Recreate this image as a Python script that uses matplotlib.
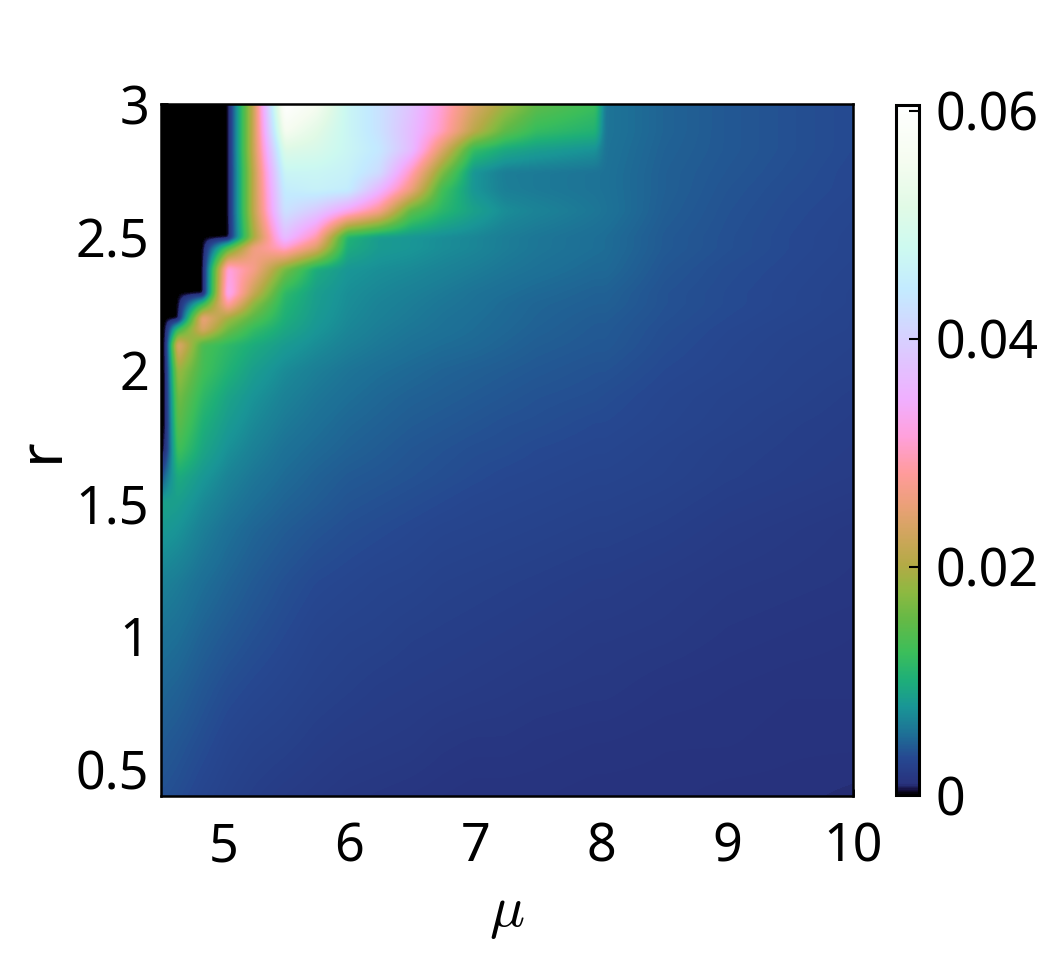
import numpy as np
import matplotlib
matplotlib.use("Agg")
import matplotlib.pyplot as plt
from matplotlib.colors import LinearSegmentedColormap, Normalize

plt.rcParams['font.family'] = ['Noto Sans', 'DejaVu Sans']
plt.rcParams['mathtext.fontset'] = 'cm'

mu = [4.5, 4.53, 4.63, 4.83, 5.03, 5.23, 5.48, 5.73, 5.98, 6.23, 6.48, 6.73, 6.98, 7.23, 7.48, 7.95, 8.03, 8.5, 9, 9.5, 10]
r = [3.0, 2.9, 2.83, 2.745, 2.68, 2.6, 2.5, 2.46, 2.38, 2.29, 2.25, 2.195, 2.155, 2.095, 2.0, 1.9, 1.8, 1.7, 1.6, 1.5, 1.4, 1.2, 1.0, 0.8, 0.6, 0.4]
z = [
 [0,0,0,0,0,.022,.0605,.056,.047,.043,.038,.031,.024,.019,.015,.0125,.0057,.0047,.0041,.0037,.0033],
 [0,0,0,0,0,.022,.056,.052,.047,.043,.037,.030,.021,.015,.012,.0105,.0057,.0047,.0041,.0037,.0033],
 [0,0,0,0,0,.022,.051,.050,.047,.044,.037,.024,.012,.0095,.0085,.0075,.0056,.0046,.0041,.0037,.0033],
 [0,0,0,0,0,.021,.047,.047,.046,.042,.030,.017,.0078,.0062,.006,.0056,.0055,.0045,.004,.0036,.0032],
 [0,0,0,0,0,.021,.045,.046,.045,.036,.026,.013,.0078,.0063,.006,.0056,.0055,.0045,.0039,.0035,.0032],
 [0,0,0,0,0,.021,.043,.039,.033,.027,.015,.0112,.0088,.0072,.0066,.0058,.0056,.0044,.0038,.0034,.0031],
 [0,0,0,0,0,.019,.037,.029,.0105,.0082,.0078,.0072,.0068,.0062,.0058,.0053,.0052,.0042,.0037,.0033,.003],
 [0,0,0,0,.014,.026,.031,.024,.0098,.0082,.0078,.0072,.0068,.0062,.0058,.0053,.0052,.0042,.0037,.0033,.003],
 [0,0,0,0,.032,.027,.0165,.0098,.0078,.0073,.007,.0066,.0062,.0058,.0055,.005,.005,.004,.0035,.0032,.0029],
 [0,0,0,0,.034,.022,.0115,.0085,.0073,.0068,.0064,.006,.0056,.0053,.005,.0046,.0046,.0038,.0034,.0031,.0028],
 [0,0,0,.012,.029,.018,.0108,.0084,.0072,.0066,.0062,.0058,.0055,.0051,.0048,.0045,.0045,.0038,.0034,.0031,.0028],
 [0,0,0,.026,.019,.0145,.0101,.0081,.007,.0064,.006,.0056,.0053,.005,.0047,.0043,.0043,.0037,.0033,.003,.0027],
 [0,0,.012,.024,.016,.012,.0094,.0078,.0068,.0062,.0058,.0055,.0052,.0049,.0046,.0042,.0042,.0036,.0032,.0029,.0027],
 [0,0,.025,.0135,.0115,.0098,.0082,.0072,.0064,.0059,.0055,.0052,.005,.0047,.0044,.0041,.0041,.0035,.0031,.0028,.0026],
 [0,0,.019,.013,.0105,.0085,.0071,.0063,.0057,.0053,.005,.0047,.0045,.0043,.0041,.0038,.0038,.0033,.003,.0027,.0025],
 [0,0,.0165,.0115,.009,.0076,.0065,.0058,.0053,.0049,.0046,.0044,.0042,.004,.0038,.0036,.0035,.0031,.0028,.0026,.0023],
 [0,0,.015,.0102,.0082,.007,.006,.0054,.0049,.0046,.0043,.0041,.0039,.0037,.0036,.0033,.0033,.003,.0027,.0024,.0022],
 [0,.001,.013,.0092,.0074,.0064,.0055,.005,.0046,.0043,.004,.0038,.0036,.0035,.0033,.0031,.0031,.0028,.0025,.0023,.0021],
 [.003,.0055,.0098,.0079,.0066,.0058,.0051,.0046,.0042,.004,.0038,.0036,.0034,.0032,.0031,.0029,.0029,.0027,.0024,.0022,.002],
 [.0088,.0088,.0085,.007,.006,.0053,.0047,.0043,.0039,.0037,.0035,.0033,.0031,.003,.0029,.0027,.0027,.0025,.0022,.002,.0018],
 [.008,.008,.0076,.0063,.0054,.0048,.0043,.0039,.0036,.0034,.0032,.003,.0029,.0028,.0027,.0025,.0025,.0023,.002,.0018,.0016],
 [.0065,.0064,.0061,.0053,.0047,.0042,.0037,.0033,.0031,.0029,.0028,.0026,.0025,.0024,.0023,.0021,.0021,.0019,.0017,.0016,.0015],
 [.0055,.0055,.0053,.0046,.0041,.0037,.0033,.0029,.0027,.0026,.0024,.0023,.0022,.0021,.002,.0018,.0018,.0017,.0015,.0014,.0013],
 [.0049,.0048,.0046,.004,.0035,.0032,.0029,.0026,.0024,.0022,.0021,.002,.0019,.0018,.0017,.0016,.0016,.0014,.0013,.0012,.0012],
 [.0043,.0042,.004,.0035,.003,.0027,.0025,.0022,.002,.0019,.0018,.0016,.0015,.0015,.0014,.0013,.0013,.0012,.0012,.0011,.0011],
 [.0037,.0037,.0035,.003,.0026,.0023,.002,.0018,.0016,.0015,.0014,.0013,.0012,.0012,.0012,.0011,.0011,.0011,.001,.001,.0009],
]
x_ticks = [5, 6, 7, 8, 9, 10]
y_ticks = [0.5, 1, 1.5, 2, 2.5, 3]
y_labels = ['0.5', '1', '1.5', '2', '2.5', '3']
cb_ticks = [0, 0.02, 0.04, 0.06]
cb_labels = ['0', '0.02', '0.04', '0.06']

VMAX = 0.0605
stops = [
 (0, (0, 0, 0)), (.0004, (20, 15, 60)), (.0009, (40, 50, 125)), (.0032, (38, 72, 145)),
 (.0052, (30, 110, 150)), (.0077, (25, 150, 150)), (.0101, (30, 175, 120)), (.0125, (60, 190, 90)),
 (.0153, (100, 185, 70)), (.0177, (140, 185, 65)), (.0202, (180, 170, 70)), (.023, (210, 165, 95)),
 (.0254, (235, 160, 120)), (.0282, (255, 155, 155)), (.0315, (255, 160, 220)), (.0347, (240, 175, 255)),
 (.0379, (225, 195, 255)), (.0411, (210, 215, 255)), (.0444, (195, 235, 255)), (.048, (205, 250, 240)),
 (.0516, (225, 250, 230)), (.0556, (245, 252, 240)), (VMAX, (255, 255, 255)),
]
cmap = LinearSegmentedColormap.from_list(
    'helix', [(v / VMAX, tuple(c / 255 for c in col)) for v, col in stops], N=512)
norm = Normalize(0, VMAX)


def resample(values, coords, fine, axis):
    return np.apply_along_axis(lambda s: np.interp(fine, coords, s), axis, values)


def soften(values, sigma=1.8):
    k = np.exp(-0.5 * (np.arange(-6, 7) / sigma) ** 2)
    k /= k.sum()
    for axis in (0, 1):
        pad = [(6, 6) if i == axis else (0, 0) for i in (0, 1)]
        p = np.pad(values, pad, mode='edge')
        values = np.apply_along_axis(lambda s: np.convolve(s, k, mode='valid'), axis, p)
    return values


W, H = 1056, 958
fig = plt.figure(figsize=(W / 100, H / 100), dpi=100)
ax = fig.add_axes([160.5 / W, 1 - 796 / H, 692.5 / W, 692 / H])
Z = np.array(z)
r_up = np.array(r)[::-1]
mu_fine = np.linspace(mu[0], mu[-1], 693)
r_fine = np.linspace(r_up[0], r_up[-1], 692)
Zf = resample(Z[::-1], r_up, r_fine, 0)
Zf = resample(Zf, mu, mu_fine, 1)
Zf = soften(Zf)
ax.imshow(Zf, origin='lower', extent=(mu[0], mu[-1], r_up[0], r_up[-1]), aspect='auto',
          cmap=cmap, norm=norm, interpolation='bilinear', zorder=1)
ax.set_xlim(4.5, 10)
ax.set_ylim(0.4, 3)
ax.set_xticks(x_ticks)
ax.set_xticklabels([str(t) for t in x_ticks])
ax.set_yticks(y_ticks)
ax.set_yticklabels(y_labels)
ax.set_axisbelow(True)
ax.tick_params(axis='both', direction='in', length=5, width=2, labelsize=37.5)
ax.tick_params(axis='x', pad=18)
ax.tick_params(axis='y', pad=8)
for s in ax.spines.values():
    s.set_linewidth(1.8)
ax.set_xlabel(r'$\mu$', fontsize=42, labelpad=6)
ax.set_ylabel('r', fontsize=43, labelpad=3)

cax = fig.add_axes([896 / W, 1 - 795 / H, 23 / W, 690 / H])
cb = fig.colorbar(plt.cm.ScalarMappable(norm=norm, cmap=cmap), cax=cax)
cb.set_ticks(cb_ticks)
cb.set_ticklabels(cb_labels)
cb.ax.tick_params(direction='in', length=7.5, width=1.5, labelsize=37.5, pad=12)
cb.outline.set_linewidth(2.2)

fig.savefig('out.png', dpi=100)
